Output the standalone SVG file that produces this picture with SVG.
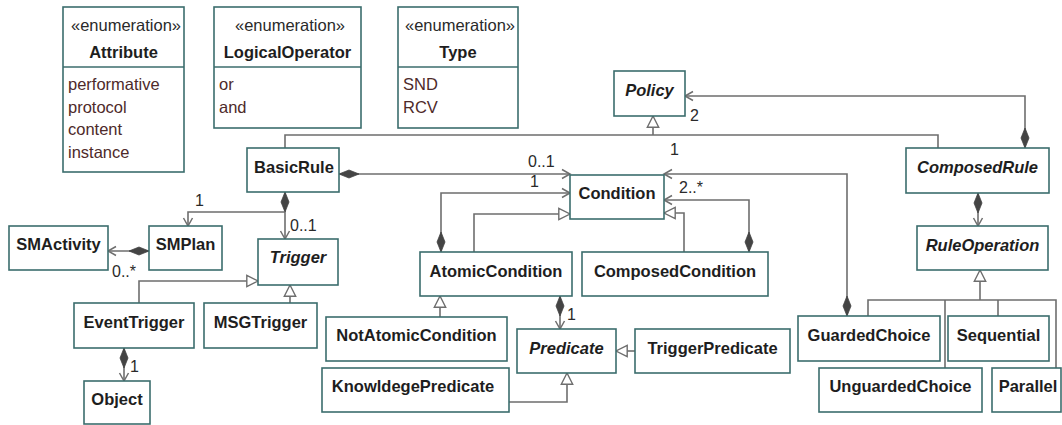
<svg xmlns="http://www.w3.org/2000/svg" width="1062" height="425" viewBox="0 0 1062 425">
  <defs>
    <style>
      .box{fill:#fff;stroke:#3b6d6d;stroke-width:1.6}
      .div{stroke:#3b6d6d;stroke-width:1.6}
      .nm{font-family:"Liberation Sans",Arial,sans-serif;font-size:16.5px;font-weight:bold;fill:#1e1e1e;text-anchor:middle}
      .ab{font-style:italic}
      .st{font-family:"Liberation Sans",Arial,sans-serif;font-size:16.5px;fill:#2a2a2a;text-anchor:middle}
      .lit{font-family:"Liberation Sans",Arial,sans-serif;font-size:16.5px;fill:#4e2a2a}
      .ln{fill:none;stroke:#6e6e6e;stroke-width:1.6}
      .gen{marker-end:url(#tri)}
      .cmp{marker-start:url(#dia);marker-end:url(#open)}
      .nav{marker-end:url(#open)}
      .lbl{font-family:"Liberation Sans",Arial,sans-serif;font-size:16px;fill:#2a2a2a}
    </style>
    <marker id="open" markerUnits="userSpaceOnUse" markerWidth="12" markerHeight="12" refX="9" refY="5" orient="auto" overflow="visible">
      <path d="M1,0.5 L9,5 L1,9.5" fill="none" stroke="#6e6e6e" stroke-width="1.5"/>
    </marker>
    <marker id="tri" markerUnits="userSpaceOnUse" markerWidth="14" markerHeight="14" refX="12" refY="6.5" orient="auto" overflow="visible">
      <path d="M0.8,0.8 L12,6.5 L0.8,12.2 Z" fill="#fff" stroke="#6e6e6e" stroke-width="1.4"/>
    </marker>
    <marker id="dia" markerUnits="userSpaceOnUse" markerWidth="21" markerHeight="10" refX="0" refY="4.5" orient="auto" overflow="visible">
      <path d="M0,4.5 L10,0.5 L20,4.5 L10,8.5 Z" fill="#444" stroke="#444" stroke-width="0.8"/>
    </marker>
  </defs>

  <rect width="1062" height="425" fill="#fff"/>

  <!-- connectors -->
  <g id="connectors">
    <!-- generalizations -->
    <path class="ln" d="M285,148 V135 H938 V148"/>
    <path class="ln gen" d="M653,135 V116"/>
    <path class="ln gen" d="M139,303 V281 H258"/>
    <path class="ln gen" d="M290,303 V285"/>
    <path class="ln gen" d="M474,252 V214 H570"/>
    <path class="ln gen" d="M684,252 V213 H664"/>
    <path class="ln gen" d="M440,317 V296"/>
    <path class="ln gen" d="M635,351 H616"/>
    <path class="ln gen" d="M509,402 H567 V373"/>
    <path class="ln" d="M868,316 V300 H1056 V368 M945,300 V368 M998,300 V316"/>
    <path class="ln gen" d="M980,300 V270"/>
    <!-- compositions -->
    <path class="ln cmp" d="M1025,148 V96 H685"/>
    <path class="ln cmp" d="M339,174 H570"/>
    <path class="ln cmp" d="M441,252 V193 H570"/>
    <path class="ln cmp" d="M749,252 V200 H664"/>
    <path class="ln cmp" d="M847,316 V174 H664"/>
    <path class="ln cmp" d="M978,193 V226"/>
    <path class="ln cmp" d="M285,192 V239"/>
    <path class="ln nav" d="M285,212 H188 V226"/>
    <path class="ln cmp" d="M149,251 H108"/>
    <path class="ln cmp" d="M124,348 V381"/>
    <path class="ln cmp" d="M560,296 V329"/>
    <!-- multiplicities -->
    <text class="lbl" x="690" y="121">2</text>
    <text class="lbl" x="670" y="155">1</text>
    <text class="lbl" x="528" y="167">0..1</text>
    <text class="lbl" x="530" y="187">1</text>
    <text class="lbl" x="679" y="193">2..*</text>
    <text class="lbl" x="195" y="206">1</text>
    <text class="lbl" x="290" y="231">0..1</text>
    <text class="lbl" x="112" y="277">0..*</text>
    <text class="lbl" x="130" y="372">1</text>
    <text class="lbl" x="567" y="320">1</text>
  </g>

  <!-- enumerations -->
  <g id="Attribute">
    <rect class="box" x="63" y="7" width="121" height="165"/>
    <line class="div" x1="63" y1="67" x2="184" y2="67"/>
    <text class="st" x="126" y="31">«enumeration»</text>
    <text class="nm" x="123.5" y="58">Attribute</text>
    <text class="lit" x="68" y="90">performative</text>
    <text class="lit" x="68" y="112.5">protocol</text>
    <text class="lit" x="68" y="135">content</text>
    <text class="lit" x="68" y="157.5">instance</text>
  </g>
  <g id="LogicalOperator">
    <rect class="box" x="214" y="7" width="147" height="121"/>
    <line class="div" x1="214" y1="67" x2="361" y2="67"/>
    <text class="st" x="290" y="31">«enumeration»</text>
    <text class="nm" x="287.5" y="58">LogicalOperator</text>
    <text class="lit" x="219" y="90">or</text>
    <text class="lit" x="219" y="112.5">and</text>
  </g>
  <g id="Type">
    <rect class="box" x="398" y="7" width="120" height="121"/>
    <line class="div" x1="398" y1="67" x2="518" y2="67"/>
    <text class="st" x="460" y="31">«enumeration»</text>
    <text class="nm" x="458" y="58">Type</text>
    <text class="lit" x="403" y="90">SND</text>
    <text class="lit" x="403" y="112.5">RCV</text>
  </g>

  <!-- classes -->
  <g id="Policy">
    <rect class="box" x="614" y="71" width="71" height="45"/>
    <text class="nm ab" x="649.5" y="96">Policy</text>
  </g>
  <g id="BasicRule">
    <rect class="box" x="247" y="148" width="92" height="44"/>
    <text class="nm" x="294" y="173">BasicRule</text>
  </g>
  <g id="ComposedRule">
    <rect class="box" x="906" y="148" width="143" height="45"/>
    <text class="nm ab" x="977.5" y="173">ComposedRule</text>
  </g>
  <g id="Condition">
    <rect class="box" x="570" y="175" width="94" height="44"/>
    <text class="nm" x="617" y="199">Condition</text>
  </g>
  <g id="SMActivity">
    <rect class="box" x="9" y="226" width="99" height="44"/>
    <text class="nm" x="58.5" y="250">SMActivity</text>
  </g>
  <g id="SMPlan">
    <rect class="box" x="149" y="226" width="73" height="44"/>
    <text class="nm" x="185.5" y="250">SMPlan</text>
  </g>
  <g id="Trigger">
    <rect class="box" x="258" y="239" width="80" height="46"/>
    <text class="nm ab" x="298" y="263">Trigger</text>
  </g>
  <g id="RuleOperation">
    <rect class="box" x="917" y="226" width="131" height="44"/>
    <text class="nm ab" x="982.5" y="251">RuleOperation</text>
  </g>
  <g id="AtomicCondition">
    <rect class="box" x="420" y="252" width="152" height="44"/>
    <text class="nm" x="496" y="277">AtomicCondition</text>
  </g>
  <g id="ComposedCondition">
    <rect class="box" x="582" y="252" width="186" height="44"/>
    <text class="nm" x="675" y="277">ComposedCondition</text>
  </g>
  <g id="EventTrigger">
    <rect class="box" x="74" y="303" width="120" height="45"/>
    <text class="nm" x="134" y="328">EventTrigger</text>
  </g>
  <g id="MSGTrigger">
    <rect class="box" x="204" y="303" width="113" height="45"/>
    <text class="nm" x="260.5" y="328">MSGTrigger</text>
  </g>
  <g id="NotAtomicCondition">
    <rect class="box" x="326" y="317" width="181" height="44"/>
    <text class="nm" x="416.5" y="341">NotAtomicCondition</text>
  </g>
  <g id="Predicate">
    <rect class="box" x="517" y="329" width="99" height="44"/>
    <text class="nm ab" x="566.5" y="354">Predicate</text>
  </g>
  <g id="TriggerPredicate">
    <rect class="box" x="635" y="329" width="155" height="44"/>
    <text class="nm" x="712.5" y="354">TriggerPredicate</text>
  </g>
  <g id="GuardedChoice">
    <rect class="box" x="798" y="316" width="142" height="45"/>
    <text class="nm" x="869" y="341">GuardedChoice</text>
  </g>
  <g id="Sequential">
    <rect class="box" x="948" y="316" width="101" height="45"/>
    <text class="nm" x="998.5" y="341">Sequential</text>
  </g>
  <g id="KnowldegePredicate">
    <rect class="box" x="322" y="368" width="187" height="44"/>
    <text class="nm" x="413" y="392">KnowldegePredicate</text>
  </g>
  <g id="UnguardedChoice">
    <rect class="box" x="819" y="368" width="163" height="44"/>
    <text class="nm" x="900.5" y="392">UnguardedChoice</text>
  </g>
  <g id="Parallel">
    <rect class="box" x="992" y="368" width="69" height="44"/>
    <text class="nm" x="1028" y="392">Parallel</text>
  </g>
  <g id="Object">
    <rect class="box" x="84" y="381" width="66" height="43"/>
    <text class="nm" x="117" y="405">Object</text>
  </g>
</svg>
